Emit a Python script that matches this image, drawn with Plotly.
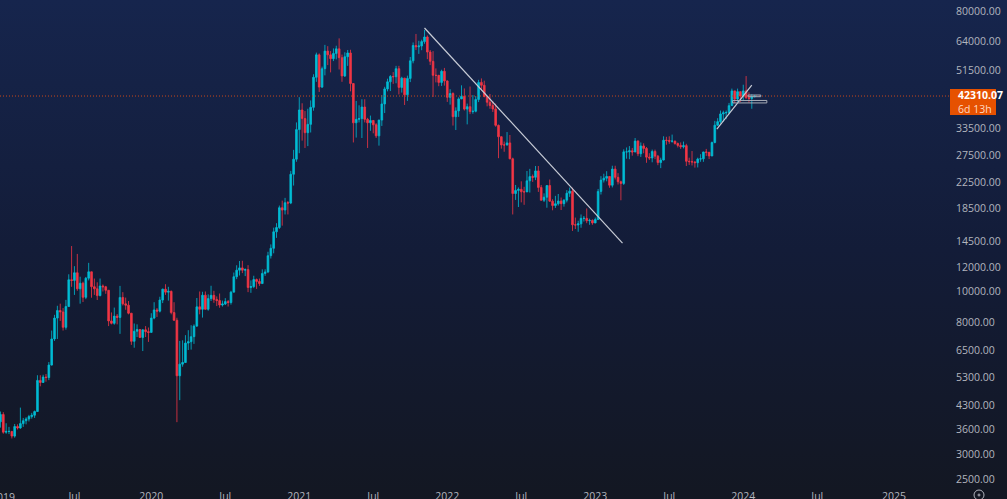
import base64
import pandas as pd
import numpy as np
import plotly.graph_objects as go

first_open = 3790
closes = [4000,3510,3530,3530,3410,3660,3620,3740,3820,3870,3940,3980,4090,5150,5070,5280,5260,5770,7000,8170,8640,8550,7630,8900,10850,10800,11430,10150,10580,9530,10980,11510,10310,10150,9650,10360,10300,10040,8000,7860,8290,8210,9520,9080,8990,8470,6880,7410,7510,7080,7490,7390,7350,
8170,8680,8600,9340,10120,9900,9960,8510,8040,5330,5810,5880,6790,6860,7120,7700,8880,8720,9680,8720,9440,9670,9380,9300,9000,9070,9230,9170,9900,11100,11650,11850,11650,11700,10250,10320,10870,10720,10550,11370,11500,12970,13700,15480,15980,18500,18180,19200,19150,23700,26500,33000,
38150,35800,32250,34300,38900,48600,57400,45200,51800,59000,57400,55800,58000,60000,56200,49100,56600,58200,46400,34700,35600,35800,39000,35600,34700,35300,34200,31500,35400,39900,44600,47000,48900,48800,51800,45100,48300,42700,48200,54900,61500,60900,61300,63300,65500,58600,54700,49300,49300,46800,50800,47300,
41900,43100,36300,37900,41400,42200,38400,39100,37700,37800,41250,46800,45800,42150,40400,39450,38450,34050,31300,29450,29450,29900,26570,20550,21030,21200,20820,20800,22580,23300,23180,24300,21500,19550,20000,21800,19420,18800,19050,19440,19070,19570,20600,20920,16300,16280,16420,17100,17100,16800,16840,16530,
16950,20880,22700,23030,23320,21860,24630,23170,22430,22150,27980,27980,28200,27950,30300,27600,29230,28700,26900,26750,28070,27100,25850,26340,30500,30450,30280,30300,29770,29350,29050,29300,26100,26020,25970,25830,26530,26570,27960,27900,27150,29990,34080,35000,37060,37350,37450,39400,43950,41400,43700,42280,
43950,41800,41550,42100,42310]
highs = [4090,4070,3750,3650,3530,3730,3720,4210,3900,3920,3990,4050,4120,5350,5350,5370,5400,5900,7450,8370,8950,9090,8800,9350,11300,13930,12000,13140,11100,10700,11080,12300,11500,10950,10650,10950,10480,10370,10050,8520,8830,8420,10370,9900,9510,9270,8490,7850,7800,7520,7520,7700,7620,
8470,9190,8800,9570,10160,10500,10300,10020,9190,8190,6900,6930,7200,7470,7750,7800,9480,9950,9930,9950,9740,10380,10000,9590,9800,9300,9470,9340,10000,11450,12080,12470,12490,11800,12090,10800,11180,10950,10950,11720,11730,13350,14100,15960,16500,18800,19500,19900,19450,24300,28400,34800,
41950,40100,37850,38500,40950,49700,58350,58000,52600,61800,61200,59000,60200,61400,64850,57500,58500,59500,59600,46000,40800,39500,41300,41300,36000,36600,35100,34600,35500,42600,45300,48100,49400,50500,52900,52900,48800,48400,49200,56500,62900,67000,63700,64200,69000,66300,59500,59000,51900,49500,51400,52100,
47500,44500,43500,38900,41900,45800,44750,40000,45400,42600,42300,47700,48200,47400,42400,42950,40800,40000,34250,31400,30200,32400,31700,26800,21900,21500,22500,21600,24280,24670,23650,25200,25200,21900,20580,21860,22800,19700,20200,20480,19950,19700,21080,21480,21450,17200,16800,17600,17400,18400,17060,16970,
17200,21260,23370,23800,24250,23350,25250,25250,23900,22600,28500,28900,29200,28800,31000,30500,30000,29800,29000,27700,28450,28450,27350,26800,31400,31280,31400,31800,30400,29980,30000,30200,29700,26800,28150,26100,26800,27500,28000,28600,27500,30200,35200,35900,38000,37950,38000,40200,44700,44000,44700,43800,
46000,49050,43500,42850,42500]
lows = [3630,3470,3470,3460,3350,3370,3580,3600,3650,3720,3800,3880,3900,4100,4930,5080,5100,5160,5750,6900,7000,8000,7450,7500,8900,10300,9700,10000,9090,9200,9400,10800,9500,9700,9340,9600,9950,9780,7700,7800,7780,7800,7270,8970,8690,8400,6700,6560,7100,7050,6400,7100,6850,
7340,8100,8240,8520,9130,9700,9300,8400,8000,3780,4450,5700,5860,6450,6470,6750,7650,8400,8200,8700,8630,9270,9150,8930,8820,8900,9000,8900,9030,9900,10900,11200,11400,11150,9900,9850,10200,10140,10370,10530,11170,11400,12700,13200,14800,15800,16200,17600,17600,19000,21800,26000,
27700,30400,28800,29200,32300,37950,47000,43600,44900,49300,53200,50400,54800,55500,51500,47000,48700,52900,43800,30000,31100,34800,31000,34800,28800,32700,32100,31000,29300,33900,37300,43800,43900,46300,46500,42800,43400,39600,40800,46900,53900,59500,57800,59400,62300,55600,53200,42000,46800,45500,45600,45700,
40500,39700,34000,32900,36250,41700,38000,34300,37000,37100,37500,40450,44250,41900,39200,38500,37600,33700,26700,28650,28000,29300,26500,17600,19600,18600,19250,18900,20800,20700,22400,22700,20800,19550,19300,18500,19320,18150,18470,18800,18190,18650,19250,20040,15580,15800,15480,15950,16700,16500,16300,16300,
16500,17300,20400,22300,22500,21450,21500,22800,21970,19550,21900,26600,26500,27200,28500,27100,26950,27700,25800,26350,25900,26500,25350,24800,26250,29500,29700,29950,29500,28900,28600,28700,25200,25400,25300,24900,24930,26000,25990,27150,26530,27100,29800,33900,34500,35000,35650,37000,39400,40200,40500,40500,
40750,41400,40300,38500,41900]

price_tick_values = [80000,64000,51500,33500,27500,22500,18500,14500,12000,10000,8000,6500,5300,4300,3600,3000,2500]
time_tick_dates = ["2019-07-01","2020-01-06","2020-07-06","2021-01-04","2021-07-05","2022-01-03","2022-07-04","2023-01-02","2023-07-03","2024-01-01","2024-07-01","2025-01-06"]
time_tick_labels = ["Jul","2020","Jul","2021","Jul","2022","Jul","2023","Jul","2024","Jul","2025"]
first_year_date = "2019-01-07"
first_year_label = "2019"
last_price = 42310.07

fall_line_dates = ["2021-11-08","2023-03-10"]
fall_line_prices = [70000,14240]
rise_line_dates = ["2023-10-28","2024-01-22"]
rise_line_prices = [33110,45900]
box_a_dates = ["2024-01-13","2024-02-13","2024-02-13","2024-01-13","2024-01-13"]
box_a_prices = [42620,42620,42100,42100,42620]
box_b_dates = ["2023-12-06","2024-02-28","2024-02-28","2023-12-06","2023-12-06"]
box_b_prices = [40940,40940,40200,40200,40940]

W, H = 1007, 499
RIGHT, BOTTOM = 950, 487
PX_PER_WEEK = 2.846
X0 = 3.3
PX_PER_OCT = 93.6

dates = pd.date_range("2018-12-31", periods=len(closes), freq="7D")
opens = [first_open] + closes[:-1]
d0 = pd.Timestamp("2019-01-07")
x_start = d0 + pd.Timedelta(days=(0 - X0) / PX_PER_WEEK * 7)
x_end = d0 + pd.Timedelta(days=(RIGHT - X0) / PX_PER_WEEK * 7)
def log_at(py):
    return np.log10(80000) - (py - 10) / PX_PER_OCT * np.log10(2)

fig = go.Figure()
UP, DOWN = "#00bcd4", "#f23645"
fig.add_trace(go.Candlestick(x=dates, open=opens, high=highs, low=lows, close=closes,
    increasing=dict(line=dict(color=UP, width=0.8), fillcolor=UP),
    decreasing=dict(line=dict(color=DOWN, width=0.8), fillcolor=DOWN),
    whiskerwidth=0, hoverinfo="skip", showlegend=False))
fig.add_trace(go.Scatter(x=[x_start, x_end], y=[last_price, last_price], mode="lines",
    line=dict(color="#c9481a", width=1, dash="1px,2px"), hoverinfo="skip", showlegend=False))
LINE = "#c8ccd6"
for xs, ys, w, c in [(fall_line_dates, fall_line_prices, 1.2, LINE), (rise_line_dates, rise_line_prices, 1.2, LINE),
                     (box_a_dates, box_a_prices, 1, "#a9adb8"), (box_b_dates, box_b_prices, 1, "#a9adb8")]:
    fig.add_trace(go.Scatter(x=xs, y=ys, mode="lines", line=dict(color=c, width=w),
                             hoverinfo="skip", showlegend=False))

svg = ('<svg xmlns="http://www.w3.org/2000/svg" width="1007" height="499" preserveAspectRatio="none">'
       '<defs><linearGradient id="g" x1="0" y1="0" x2="0" y2="1">'
       '<stop offset="0" stop-color="#16254d"/><stop offset="0.5" stop-color="#131c38"/>'
       '<stop offset="1" stop-color="#131722"/></linearGradient></defs>'
       '<rect width="1007" height="499" fill="url(#g)"/></svg>')
uri = "data:image/svg+xml;base64," + base64.b64encode(svg.encode()).decode()

FONT = "Open Sans, sans-serif"
TICK = "#b2b5be"
FS = 10.5
fig.update_layout(
    width=W, height=H, autosize=False,
    margin=dict(l=0, r=W - RIGHT, t=0, b=H - BOTTOM, pad=0, autoexpand=False),
    paper_bgcolor="#131722", plot_bgcolor="rgba(0,0,0,0)",
    font=dict(family=FONT, size=FS, color=TICK),
    showlegend=False, boxgap=0.15,
    images=[dict(source=uri, xref="paper", yref="paper", x=0, y=1, sizex=W / RIGHT, sizey=H / BOTTOM,
                 xanchor="left", yanchor="top", sizing="stretch", layer="below")],
    xaxis=dict(type="date", range=[x_start, x_end], automargin=False, rangeslider=dict(visible=False), showgrid=False,
               zeroline=False, showline=False, ticks="", tickmode="array", tickvals=time_tick_dates,
               ticktext=time_tick_labels, tickfont=dict(size=FS, color=TICK, family=FONT), ticklabelstandoff=1),
    yaxis=dict(type="log", side="right", range=[log_at(BOTTOM), log_at(0)], automargin=False, showgrid=False, zeroline=False,
               showline=False, ticks="", tickmode="array", tickvals=price_tick_values,
               ticktext=[f"{v:.2f}" for v in price_tick_values], tickfont=dict(size=FS, color=TICK, family=FONT),
               ticklabelstandoff=5, ticklabelshift=1),
    annotations=[
        dict(xref="paper", yref="paper", x=956 / RIGHT, xanchor="left", y=1 - 102.5 / BOTTOM, yanchor="middle",
             text='<b>42310.07</b><br><span style="color:#ffd9c2">6d 13h</span>', showarrow=False, align="left",
             font=dict(size=FS, color="#ffffff", family=FONT)),
        dict(xref="x", yref="paper", x=first_year_date, y=1 - 488.5 / BOTTOM, yanchor="top", xanchor="center",
             text=first_year_label, showarrow=False, font=dict(size=FS, color=TICK, family=FONT), borderpad=0),
    ],
    shapes=[dict(type="rect", xref="paper", yref="paper", x0=1.0, x1=996 / RIGHT,
                 y0=1 - 115 / BOTTOM, y1=1 - 89 / BOTTOM, fillcolor="#e65100", line=dict(width=0)),
            dict(type="circle", xref="paper", yref="paper", x0=(979 - 5) / RIGHT, x1=(979 + 5) / RIGHT,
                 y0=1 - (495 + 5) / BOTTOM, y1=1 - (495 - 5) / BOTTOM, line=dict(color=TICK, width=1)),
            dict(type="circle", xref="paper", yref="paper", x0=(979 - 1) / RIGHT, x1=(979 + 1) / RIGHT,
                 y0=1 - (495 + 1) / BOTTOM, y1=1 - (495 - 1) / BOTTOM, line=dict(color=TICK, width=1))],
)
assert len(closes) == len(highs) == len(lows), (len(closes), len(highs), len(lows))
fig.write_html("out.html", config={"displayModeBar": False},
               post_script="document.body.style.margin='0';document.body.style.background='#131722';document.documentElement.style.overflow='hidden';")
